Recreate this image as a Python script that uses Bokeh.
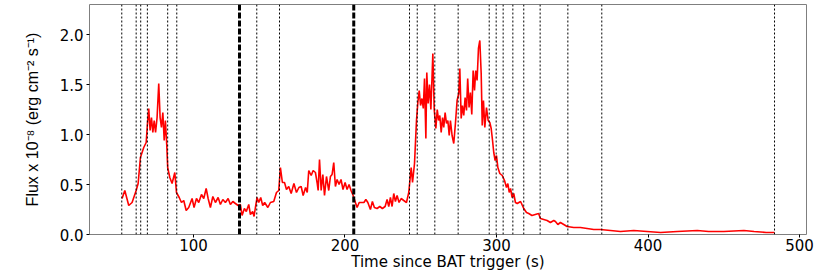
from bokeh.plotting import figure
from bokeh.models import Range1d, FixedTicker, Span, PrintfTickFormatter
from bokeh.embed import file_html
from bokeh.resources import INLINE

# Light curve (time since BAT trigger, flux in 1e-8 erg cm^-2 s^-1)
time_s = [52.9, 54.7, 57.3, 59.5, 62.2, 63.5, 65.0, 67.2, 68.8, 69.8, 70.5, 71.4, 72.3, 73.2,
          74.1, 75.0, 76.0, 77.1, 78.0, 78.9, 79.8, 80.7, 81.5, 82.4, 83.0, 84.4, 85.9, 87.7,
          88.8, 90.6, 92.1, 93.6, 95.2, 96.9, 99.1, 100.4, 102.0, 103.5, 105.3, 106.8, 108.4,
          109.7, 111.2, 112.8, 114.5, 116.3, 117.8, 119.4, 121.1, 122.9, 124.4, 126.0, 127.7,
          129.5, 131.0, 132.1, 133.6, 134.9, 136.5, 137.6, 139.1, 140.0, 140.9, 142.0, 143.1,
          144.4, 145.7, 147.0, 149.1, 150.8, 153.0, 154.8, 156.3, 157.4, 158.7, 160.1, 161.4,
          162.9, 164.5, 166.3, 168.0, 169.6, 171.1, 172.4, 174.0, 175.1, 176.1, 177.7, 179.0,
          180.5, 181.6, 182.3, 183.2, 184.3, 185.4, 186.5, 187.8, 189.3, 190.4, 191.5, 192.6,
          193.7, 194.8, 196.1, 197.4, 198.7, 200.1, 201.4, 202.7, 204.0, 205.4, 206.9, 208.0,
          209.4, 210.7, 212.5, 213.8, 215.1, 216.8, 218.1, 219.4, 221.2, 223.0, 224.7, 226.5,
          227.8, 228.9, 230.0, 231.1, 232.2, 233.3, 234.4, 235.7, 237.1, 238.8, 240.6, 242.1,
          243.7, 244.6, 245.9, 247.2, 248.1, 249.0, 249.9, 250.8, 251.7, 252.5, 253.4, 254.0,
          254.9, 255.8, 256.7, 258.0, 258.9, 260.0, 260.9, 261.8, 262.6, 263.5, 264.4, 265.2,
          266.1, 267.0, 267.9, 268.8, 269.6, 270.7, 271.8, 272.9, 274.0, 275.1, 275.8, 276.7,
          277.5, 278.4, 279.3, 280.2, 281.0, 281.9, 282.8, 283.7, 284.6, 285.5, 286.3, 287.2,
          288.1, 289.0, 289.9, 290.6, 291.4, 292.3, 293.4, 294.5, 295.6, 296.5, 297.4, 298.2,
          299.1, 300.0, 300.9, 302.2, 303.8, 305.3, 306.6, 307.5, 308.4, 309.3, 310.3, 311.4,
          312.5, 313.7, 315.9, 318.0, 319.8, 321.3, 323.4, 325.6, 327.8, 329.0, 331.2, 333.4,
          335.6, 337.8, 338.9, 340.5, 342.2, 344.4, 346.6, 351.0, 355.4, 359.8, 364.2, 368.6,
          375.2, 381.8, 390.6, 399.4, 408.3, 419.3, 432.5, 440.0, 450.0, 463.3, 470.0, 478.0,
          483.5]
flux = [0.36, 0.44, 0.29, 0.32, 0.44, 0.51, 0.77, 0.87, 0.92, 1.14, 1.26, 1.04, 1.17, 1.02,
        1.14, 1.02, 1.17, 1.51, 1.17, 1.07, 1.22, 0.94, 1.14, 0.89, 0.67, 0.57, 0.51, 0.62,
        0.42, 0.37, 0.32, 0.34, 0.24, 0.27, 0.36, 0.27, 0.36, 0.32, 0.40, 0.36, 0.46,
        0.36, 0.27, 0.38, 0.32, 0.37, 0.30, 0.35, 0.32, 0.36, 0.30, 0.33, 0.31,
        0.29, 0.30, 0.19, 0.26, 0.23, 0.30, 0.20, 0.23, 0.18, 0.27, 0.37, 0.32,
        0.37, 0.29, 0.32, 0.27, 0.32, 0.33, 0.42, 0.44, 0.67, 0.52, 0.52, 0.45,
        0.48, 0.41, 0.51, 0.42, 0.47, 0.48, 0.39, 0.47, 0.42, 0.64, 0.59, 0.64,
        0.62, 0.52, 0.44, 0.75, 0.44, 0.60, 0.39, 0.58, 0.44, 0.58, 0.60, 0.72,
        0.48, 0.55, 0.50, 0.55, 0.45, 0.52, 0.45, 0.50, 0.44, 0.39, 0.32, 0.27,
        0.32, 0.32, 0.32, 0.35, 0.32, 0.25, 0.33, 0.27, 0.26, 0.28, 0.26, 0.28,
        0.35, 0.28, 0.37, 0.28, 0.41, 0.33, 0.39, 0.32, 0.36, 0.34, 0.32, 0.42,
        0.67, 0.52, 0.71, 1.14, 1.32, 1.44, 1.29, 1.36, 1.26, 1.56, 0.96, 1.62,
        1.31, 1.50, 1.25, 1.81, 1.25, 1.06, 1.25, 1.14, 1.19, 1.02, 1.17, 1.07,
        1.22, 1.11, 1.14, 0.99, 1.14, 0.99, 0.91, 1.11, 1.34, 1.41, 1.66, 1.16,
        1.29, 1.19, 1.37, 1.24, 1.56, 1.27, 1.42, 1.20, 1.64, 1.44, 1.64, 1.54,
        1.86, 1.94, 1.61, 1.09, 1.34, 1.07, 1.27, 1.14, 1.12, 1.06, 0.94, 0.82,
        0.74, 0.79, 0.67, 0.61, 0.59, 0.54, 0.47, 0.51, 0.42, 0.46, 0.37, 0.41,
        0.32, 0.31, 0.33, 0.26, 0.22, 0.21, 0.19, 0.20, 0.21, 0.16, 0.15, 0.14,
        0.12, 0.14, 0.13, 0.10, 0.12, 0.10, 0.08, 0.07, 0.07, 0.06, 0.05, 0.05,
        0.04, 0.03, 0.04, 0.03, 0.02, 0.03, 0.04, 0.03, 0.03, 0.04, 0.03, 0.02,
        0.02]

# Interval boundaries (thin dotted) and the two thick dashed markers
thin_lines = [52.7, 62.2, 65.2, 69.6, 83.0, 89.0, 141.8, 156.8, 242.6, 247.7, 259.3,
              274.7, 295.2, 299.8, 304.4, 310.8, 318.0, 328.8, 347.1, 369.5, 483.5]
thick_lines = [130.4, 205.8]

x_ticks = [100, 200, 300, 400, 500]
y_ticks = [0.0, 0.5, 1.0, 1.5, 2.0]

p = figure(width=830, height=273, output_backend="svg", toolbar_location=None,
           x_range=Range1d(31.4, 504.6), y_range=Range1d(0, 2.3),
           min_border_left=89, min_border_right=24, min_border_top=4, min_border_bottom=39)

p.grid.visible = False
p.outline_line_color = "#7f7f7f"
p.outline_line_width = 1
p.background_fill_color = "white"
p.border_fill_color = "white"

for t in thin_lines:
    p.add_layout(Span(location=t, dimension="height", line_color="black",
                      line_width=1, line_dash="2 2"))
for t in thick_lines:
    p.add_layout(Span(location=t, dimension="height", line_color="black",
                      line_width=3, line_dash="6 2"))

p.line(time_s, flux, line_color="red", line_width=1.6)

p.xaxis.ticker = FixedTicker(ticks=x_ticks)
p.yaxis.ticker = FixedTicker(ticks=y_ticks)
p.yaxis.formatter = PrintfTickFormatter(format="%.1f")

for ax in (p.xaxis[0], p.yaxis[0]):
    ax.axis_line_color = None
    ax.major_tick_line_color = "black"
    ax.major_tick_out = 3
    ax.major_tick_in = 0
    ax.minor_tick_line_color = None
    ax.major_label_text_font = "DejaVu Sans"
    ax.major_label_text_font_size = "15px"
    ax.major_label_text_color = "black"
    ax.axis_label_text_color = "black"
    ax.axis_label_text_font_style = "normal"

p.xaxis.major_label_standoff = 1
p.yaxis.major_label_standoff = 3
p.xaxis.axis_label = "Time since BAT trigger (s)"
p.xaxis.axis_label_text_font = "DejaVu Sans"
p.xaxis.axis_label_text_font_size = "15px"
p.xaxis.axis_label_standoff = -1

p.yaxis.axis_label = "Flux x 10⁻⁸ (erg cm⁻² s⁻¹)"
p.yaxis.axis_label_text_font = "Liberation Sans"
p.yaxis.axis_label_text_font_size = "16px"
p.yaxis.axis_label_standoff = 16

open("out.html", "w").write(file_html(p, INLINE))
